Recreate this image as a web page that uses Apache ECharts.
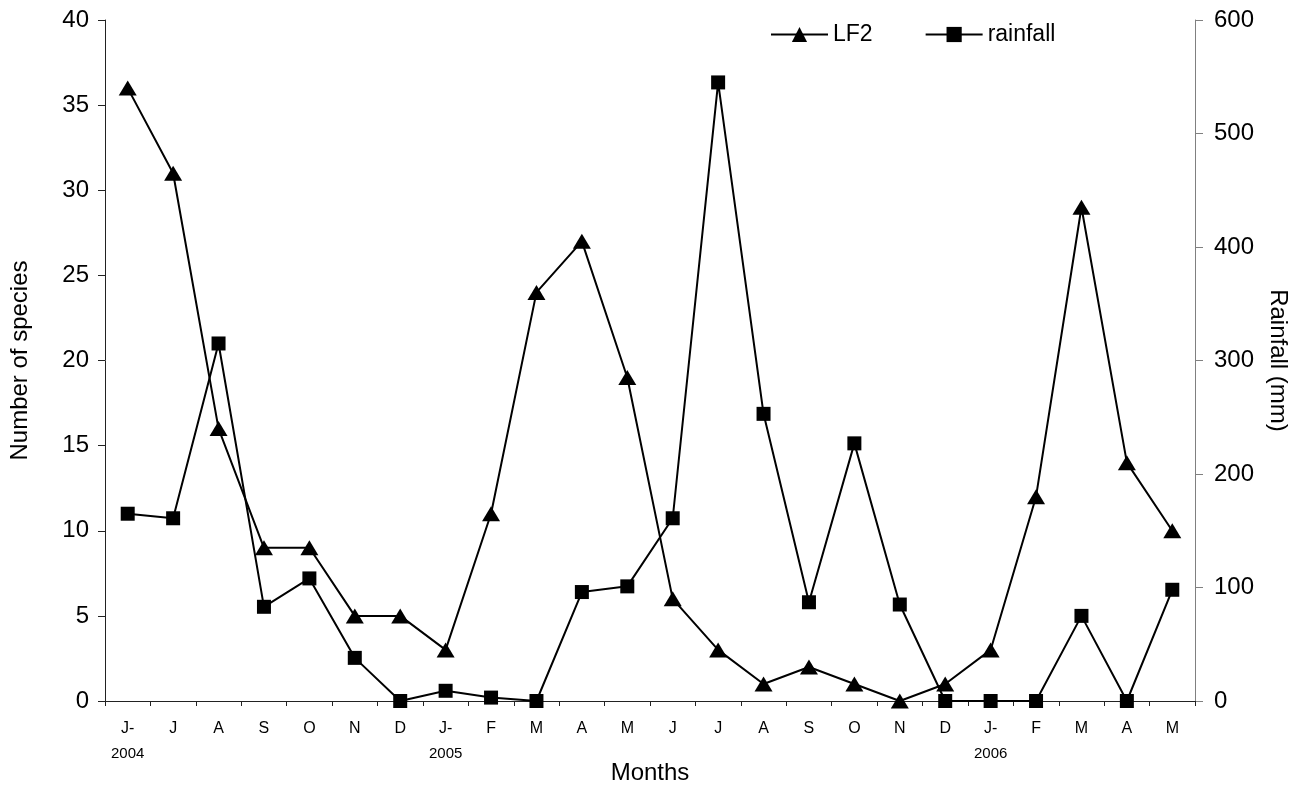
<!DOCTYPE html>
<html>
<head>
<meta charset="utf-8">
<script src="https://cdn.jsdelivr.net/npm/echarts@6/dist/echarts.min.js"></script>
<style>
  html, body { margin: 0; padding: 0; background: #fff; }
  #chart { width: 1303px; height: 787px; }
</style>
</head>
<body>
<div id="chart"></div>
<script>
// month labels, year shown under first month of each year
var months = ["J-", "J", "A", "S", "O", "N", "D", "J-", "F", "M", "A", "M",
  "J", "J", "A", "S", "O", "N", "D", "J-", "F", "M", "A", "M"];
var years = ["2004", "", "", "", "", "", "", "2005", "", "", "", "",
  "", "", "", "", "", "", "", "2006", "", "", "", ""];

// number of species (left axis)
var lf2 = [36, 31, 16, 9, 9, 5, 5, 3, 11, 24, 27, 19, 6, 3, 1, 2, 1, 0, 1, 3, 12, 29, 14, 10];
// rainfall in mm (right axis)
var rainfall = [165, 161, 315, 83, 108, 38, 0, 9, 3, 0, 96, 101, 161, 545, 253, 87, 227, 85, 0, 0, 0, 75, 0, 98];

var font = "Liberation Sans, Arial, sans-serif";

var chart = echarts.init(document.getElementById("chart"));

chart.setOption({
  animation: false,
  textStyle: { fontFamily: font, color: "#000" },
  grid: { left: 105, right: 108, top: 20, bottom: 86, outerBoundsMode: "none" },
  legend: {
    left: 765,
    top: 18,
    itemWidth: 57,
    itemHeight: 19,
    itemGap: 52,
    textStyle: { fontSize: 23, color: "#000", fontFamily: font },
    data: ["LF2", "rainfall"]
  },
  xAxis: {
    type: "category",
    data: months,
    name: "Months",
    nameLocation: "middle",
    nameGap: 60,
    nameMoveOverlap: false,
    nameTextStyle: { fontSize: 24, color: "#000" },
    boundaryGap: true,
    axisLine: { lineStyle: { color: "#222", width: 1 } },
    axisTick: { show: true, length: 5, lineStyle: { color: "#222" } },
    axisLabel: {
      interval: 0,
      margin: 20,
      fontSize: 16,
      color: "#000",
      formatter: function (v, i) {
        return years[i] ? v + "\n{y|" + years[i] + "}" : v;
      },
      rich: { y: { fontSize: 15, lineHeight: 26, padding: [7, 0, 0, 0] } }
    }
  },
  yAxis: [
    {
      type: "value",
      min: 0,
      max: 40,
      interval: 5,
      name: "Number of species",
      nameLocation: "middle",
      nameGap: 73,
      nameMoveOverlap: false,
      nameTextStyle: { fontSize: 24, color: "#000" },
      splitLine: { show: false },
      axisLine: { show: true, lineStyle: { color: "#222" } },
      axisTick: { show: true, length: 7, lineStyle: { color: "#222" } },
      axisLabel: { fontSize: 24, color: "#000", margin: 16 }
    },
    {
      type: "value",
      min: 0,
      max: 600,
      interval: 100,
      name: "Rainfall (mm)",
      nameLocation: "middle",
      nameRotate: -90,
      nameGap: 71,
      nameMoveOverlap: false,
      nameTextStyle: { fontSize: 24, color: "#000" },
      splitLine: { show: false },
      axisLine: { show: true, lineStyle: { color: "#808080" } },
      axisTick: { show: true, length: 8, lineStyle: { color: "#808080" } },
      axisLabel: { fontSize: 24, color: "#000", margin: 19 }
    }
  ],
  series: [
    {
      name: "LF2",
      type: "line",
      yAxisIndex: 0,
      data: lf2,
      symbol: "triangle",
      symbolSize: [18, 15],
      lineStyle: { color: "#000", width: 2 },
      itemStyle: { color: "#000" }
    },
    {
      name: "rainfall",
      type: "line",
      yAxisIndex: 1,
      data: rainfall,
      symbol: "rect",
      symbolSize: 14,
      lineStyle: { color: "#000", width: 2 },
      itemStyle: { color: "#000" }
    }
  ]
});
</script>
</body>
</html>
